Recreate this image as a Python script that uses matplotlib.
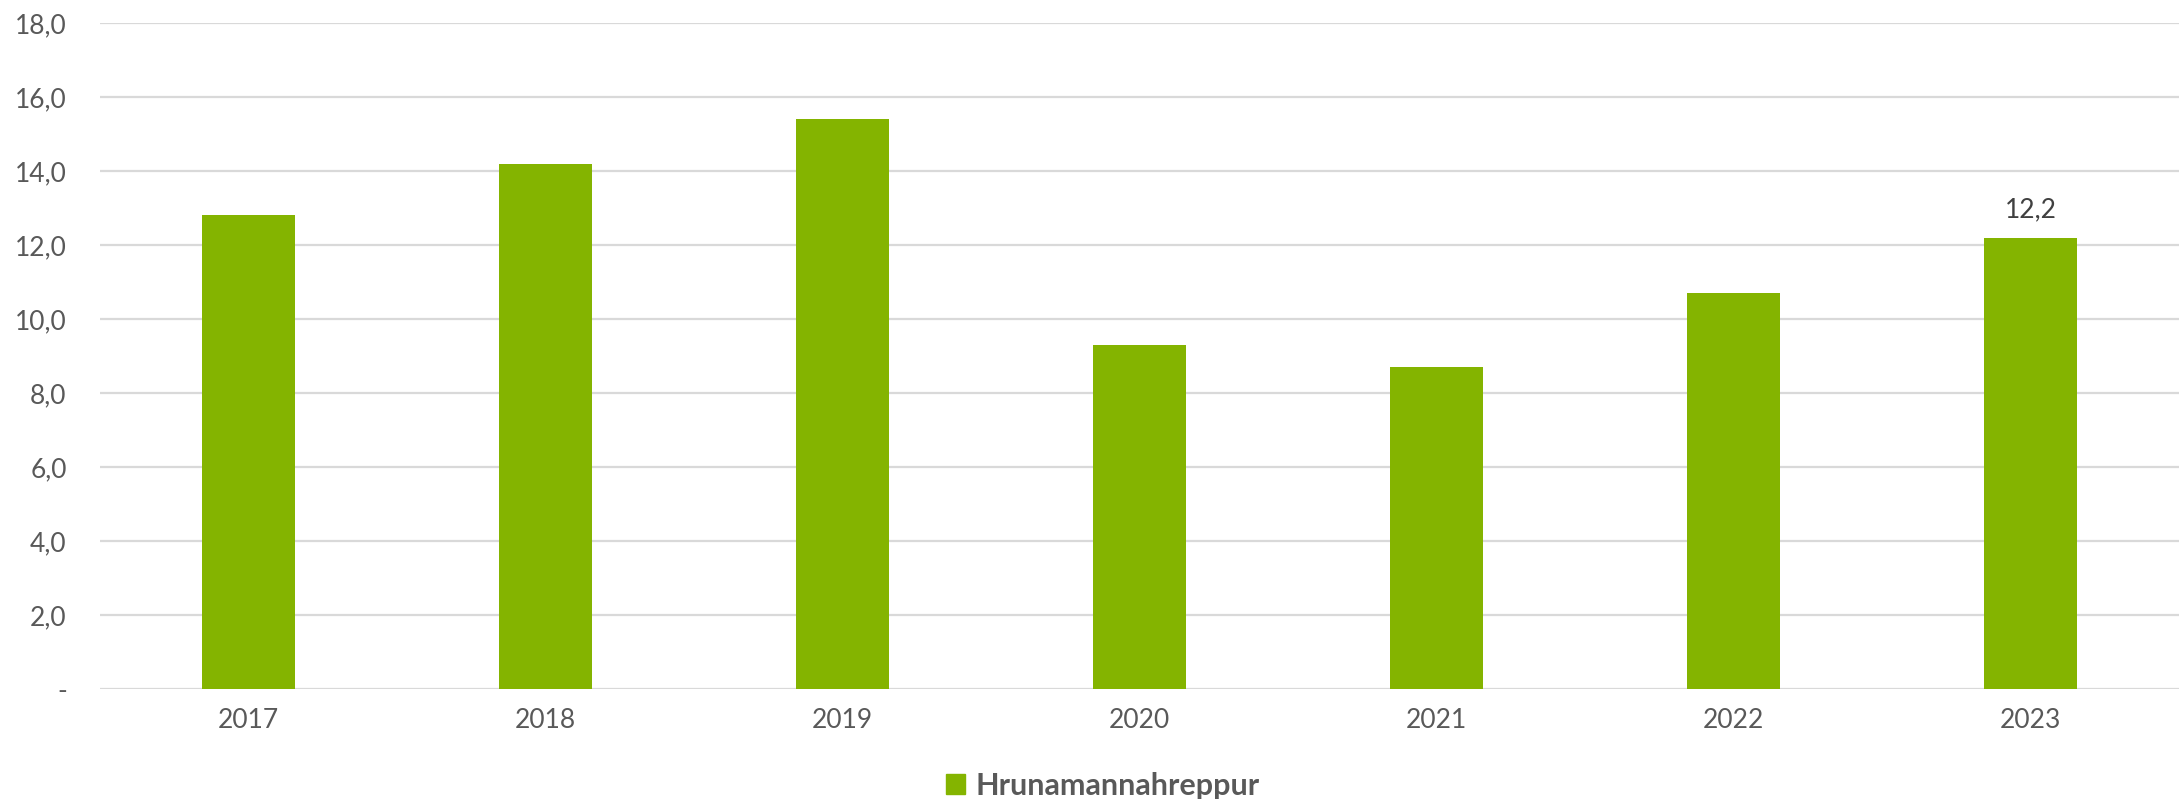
import matplotlib
matplotlib.use("Agg")
import matplotlib.pyplot as plt
from matplotlib.ticker import FuncFormatter, MultipleLocator
from matplotlib.patches import Patch

years = ["2017", "2018", "2019", "2020", "2021", "2022", "2023"]
values = [12.8, 14.2, 15.4, 9.3, 8.7, 10.7, 12.2]
series_name = "Hrunamannahreppur"
labelled = {6: "12,2"}

plt.rcParams['font.family'] = ['Lato', 'DejaVu Sans']

fig = plt.figure(figsize=(21.82, 7.99), dpi=100)
ax = fig.add_axes([100/2182, 1-689/799, (2179-100)/2182, (689-23)/799])

green = "#84B400"
x = list(range(len(years)))
ax.bar(x, values, width=0.313, color=green, zorder=3)

ax.set_xlim(-0.5, len(years)-0.5)
ax.set_ylim(0, 18)
ax.yaxis.set_major_locator(MultipleLocator(2))
ax.yaxis.set_major_formatter(FuncFormatter(lambda v, p: "-" if abs(v) < 1e-9 else f"{v:.1f}".replace(".", ",")))
ax.grid(axis="y", color="#D9D9D9", linewidth=1.6, zorder=0)
for s in ax.spines.values():
    s.set_visible(False)
ax.set_xticks(x)
ax.set_xticklabels(years)
ax.tick_params(axis="both", length=0, labelsize=19, colors="#595959")
ax.tick_params(axis="y", pad=24)
ax.tick_params(axis="x", pad=14)

for i, txt in labelled.items():
    ax.annotate(txt, (x[i], values[i]), xytext=(0, 11), textcoords="offset points",
                ha="center", va="bottom", fontsize=19, color="#404040")

leg = fig.legend(handles=[Patch(color=green, label=series_name)], loc="center",
                 bbox_to_anchor=(1103/2182, 1-786/799), frameon=False, handlelength=0.62,
                 handleheight=0.62, handletextpad=0.35,
                 prop={"size": 22, "weight": "bold"})
for t in leg.get_texts():
    t.set_color("#595959")

fig.savefig("out.png", dpi=100)
